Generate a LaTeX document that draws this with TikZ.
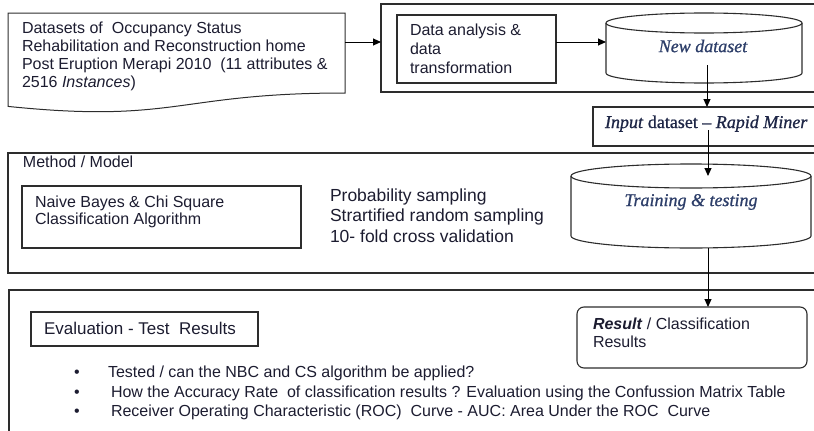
\documentclass[tikz,border=0pt]{standalone}
\usepackage{fontspec}
\setmainfont{Liberation Serif}
\setsansfont{Liberation Sans}
\newfontfamily\heavyserif[Ligatures=TeX, FakeBold=0.9]{Liberation Serif}
\usetikzlibrary{arrows.meta}
\definecolor{ink}{RGB}{28,28,48}
\definecolor{serifink}{RGB}{45,62,105}
\definecolor{inputink}{RGB}{30,38,70}
\definecolor{edge}{RGB}{45,45,45}

\begin{document}
\begin{tikzpicture}[x=1pt,y=1pt,
  every node/.style={inner sep=0pt, outer sep=0pt, text=ink},
  frame/.style={draw=edge, line width=1.1pt},
  hidden/.style={inner sep=0pt},
  conn/.style={draw=black, line width=1pt, -{Triangle[length=8pt,width=7pt]}},
  sanslabel/.style={font=\sffamily\fontsize{16}{18}\selectfont, align=left},
  seriflabel/.style={font=\heavyserif\itshape\fontsize{18}{20}\selectfont, text=serifink},
  bulletline/.style={font=\sffamily\fontsize{16}{18}\selectfont, anchor=base west}
]
\useasboundingbox (0,0) rectangle (814,-431);
\begin{scope}
\clip (0,0) rectangle (814,-431);

% ---- source data set (document shape) ----
\draw[frame, line width=1pt] (8,-13) -- (345,-13) -- (345,-93)
  .. controls (176.5,-93) and (176.5,-123.75) .. (8,-106.4) -- cycle;
\node[sanslabel, anchor=north west] (src) at (22,-22.4)
  {Datasets of\ \ Occupancy Status\\
   Rehabilitation and Reconstruction home\\
   Post Eruption Merapi 2010\ \ (11 attributes \&\\
   2516 \textit{Instances})};
\coordinate (srcout) at (345,-42);

% ---- preprocessing stage ----
\node[frame, anchor=north west, minimum width=460pt, minimum height=88pt] (stage) at (381,-4) {};
\node[frame, anchor=north west, minimum width=159pt, minimum height=68pt] (analysis) at (397,-15) {};
\node[sanslabel, font=\sffamily\fontsize{16}{19}\selectfont, anchor=north west] (analysislabel) at (410,-24)
  {Data analysis \&\\data\\transformation};

% new dataset cylinder
\draw[frame] (606,-23) -- (606,-73) arc[start angle=180, end angle=360, x radius=98, y radius=10] -- (802,-23);
\draw[frame] (704,-23) ellipse [x radius=98, y radius=10];
\node[hidden, minimum width=196pt, minimum height=70pt, anchor=north] (newdata) at (704,-13) {};
\node[seriflabel] (newdatalabel) at (703,-46) {New dataset};
\coordinate (newdataout) at (707,-65);

% ---- input to Rapid Miner ----
\node[frame, anchor=north west, minimum width=240pt, minimum height=39pt] (input) at (593,-107) {};
\node[font=\heavyserif\fontsize{18}{20}\selectfont, text=inputink, anchor=base west] (inputlabel) at (605,-128)
  {\textit{Input} dataset -- \textit{Rapid Miner}};
\coordinate (inputout) at (708,-130);

% ---- method / model ----
\node[frame, anchor=north west, minimum width=840pt, minimum height=120pt] (method) at (8,-153) {};
\node[sanslabel, anchor=base west] (methodlabel) at (23,-167) {Method / Model};
\node[frame, anchor=north west, minimum width=279pt, minimum height=62pt] (algo) at (22,-186) {};
\node[sanslabel, font=\sffamily\fontsize{16}{16.5}\selectfont, anchor=north west] (algolabel) at (35,-196.3)
  {Naive Bayes \& Chi Square\\Classification Algorithm};
\node[sanslabel, font=\sffamily\fontsize{17.5}{20.5}\selectfont, anchor=north west] (sampling) at (330,-188.5)
  {Probability sampling\\Strartified random sampling\\10- fold cross validation};

% training & testing cylinder
\draw[frame] (571,-176) -- (571,-236) arc[start angle=180, end angle=360, x radius=120, y radius=12] -- (811,-176);
\draw[frame] (691,-176) ellipse [x radius=120, y radius=12];
\node[hidden, minimum width=240pt, minimum height=84pt, anchor=north] (train) at (691,-164) {};
\node[seriflabel] (trainlabel) at (691,-202) {Training \& testing};
\coordinate (trainin) at (708,-176);
\coordinate (trainout) at (708,-248);

% ---- evaluation ----
\node[frame, anchor=north west, minimum width=840pt, minimum height=160pt] (evaluation) at (9,-290) {};
\node[frame, anchor=north west, minimum width=227pt, minimum height=34pt] (evalhead) at (31,-312) {};
\node[sanslabel, font=\sffamily\fontsize{17}{19}\selectfont, anchor=base west] (evalheadlabel) at (44,-334)
  {Evaluation - Test\ \ Results};
\node[frame, rounded corners=7pt, anchor=north west, minimum width=230pt, minimum height=61pt] (result) at (577,-307) {};
\node[sanslabel, anchor=north west] (resultlabel) at (593,-318.3)
  {\textbf{\textit{Result}} / Classification\\Results};

\node[bulletline] (b1) at (74,-377) {•};
\node[bulletline] (b2) at (74,-397) {•};
\node[bulletline] (b3) at (74,-416) {•};
\node[bulletline] (t1) at (108,-377) {Tested / can the NBC and CS algorithm be applied?};
\node[bulletline] (t2) at (111,-397) {How the Accuracy Rate\ \ of classification results ? Evaluation using the Confussion Matrix Table};
\node[bulletline] (t3) at (111,-416) {Receiver Operating Characteristic (ROC)\ \ Curve - AUC: Area Under the ROC\ \ Curve};

% ---- connectors ----
\draw[conn] (srcout) -- (srcout -| stage.west);
\draw[conn] (analysis.east |- srcout) -- (newdata.west |- srcout);
\draw[conn] (newdataout) -- (newdataout |- input.north);
\draw[conn] (inputout) -- (trainin);
\draw[conn] (trainout) -- (trainout |- result.north);
\end{scope}
\end{tikzpicture}
\end{document}
